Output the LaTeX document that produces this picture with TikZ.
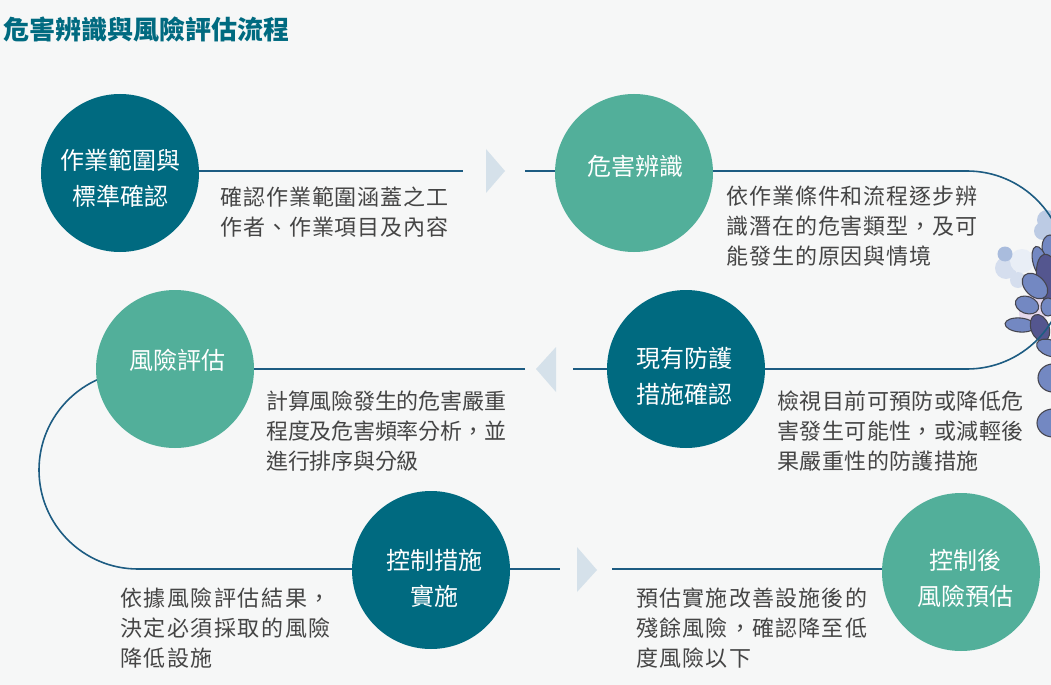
\documentclass[tikz,border=0pt]{standalone}
\usepackage{fontspec}
\usetikzlibrary{backgrounds}
\newfontfamily\cjkdesc[LetterSpace=4.3]{Noto Sans CJK TC}
\newfontfamily\cjkdescN[LetterSpace=-1]{Noto Sans CJK TC}
\newfontfamily\cjkdescM[LetterSpace=2]{Noto Sans CJK TC}
\newfontfamily\cjkdescW[LetterSpace=5.5]{Noto Sans CJK TC}
\newfontfamily\cjkdescX[LetterSpace=7]{Noto Sans CJK TC}
\newfontfamily\cjkstep{Noto Sans CJK TC}
\newfontfamily\cjktitle{Noto Sans CJK TC}
\definecolor{bgc}{HTML}{F6F7F7}
\definecolor{tealc}{HTML}{006A80}
\definecolor{mint}{HTML}{52AF9A}
\definecolor{linec}{HTML}{1D5C82}
\definecolor{tric}{HTML}{D5E1EA}
\definecolor{txt}{HTML}{454545}
\definecolor{petal}{HTML}{7388C2}
\definecolor{petald}{HTML}{54568F}
\definecolor{edge}{HTML}{45454F}
\definecolor{paleA}{HTML}{A9BCDD}
\definecolor{paleB}{HTML}{D5DEEE}
\definecolor{paleC}{HTML}{E9EEF6}
\definecolor{paleD}{HTML}{BCCBE4}
\definecolor{pinkc}{HTML}{E5D8EC}
% label in a circle, shifted by #1 px right and #2 px down from the centre
\newcommand{\steplabel}[3]{\raisebox{\dimexpr-#2pt*3/4-5.9pt\relax}[0pt][0pt]{\makebox[0pt]{\hspace{\dimexpr#1pt*3/2\relax}\begin{tabular}{@{}c@{}}#3\end{tabular}}}}
\tikzset{
 stepdark/.style={circle,fill=tealc,text=white,minimum size=118.5pt,inner sep=0pt,font=\cjkstep\fontsize{18}{27}\selectfont},
 steplight/.style={stepdark,fill=mint},
 desc/.style={anchor=north west,inner sep=0pt,align=left,text=txt,font=#1\fontsize{16.5}{22.3}\selectfont},
 flow/.style={draw=linec,line width=1.2pt},
 tri/.style={fill=tric,draw=none},
 pet/.style={draw=edge,line width=0.8pt,fill=petal},
 petd/.style={draw=edge,line width=0.8pt,fill=petald},
}
\begin{document}
\begin{tikzpicture}[x=0.75pt,y=-0.75pt]
\useasboundingbox (0,0) rectangle (1051,685);
\node[anchor=west,inner sep=0pt,text=tealc,font=\cjktitle\bfseries\fontsize{19.5}{22}\selectfont] (title) at (3,29) {危害辨識與風險評估流程};
\node[stepdark] (c1) at (120,173) {\steplabel{0}{5}{作業範圍與\\標準確認}};
\node[steplight] (c2) at (634,173) {\steplabel{1}{-7}{危害辨識}};
\node[steplight] (c3) at (175,369) {\steplabel{2}{-9}{風險評估}};
\node[stepdark] (c4) at (686,369) {\steplabel{-2}{7}{現有防護\\措施確認}};
\node[stepdark] (c5) at (431,570) {\steplabel{3}{8.5}{控制措施\\實施}};
\node[steplight] (c6) at (961,572) {\steplabel{4}{6.5}{控制後\\風險預估}};
\node[desc=\cjkdesc] (t1) at (220,186.5) {確認作業範圍涵蓋之工\\作者、作業項目及內容};
\node[desc=\cjkdesc] (t2) at (726,186) {依作業條件和流程逐步辨\\識潛在的危害類型，及可\\能發生的原因與情境};
\node[desc=\cjkdescN] (t3) at (266,391) {計算風險發生的危害嚴重\\程度及危害頻率分析，並\\進行排序與分級};
\node[desc=\cjkdescM] (t4) at (777,391) {檢視目前可預防或降低危\\害發生可能性，或減輕後\\果嚴重性的防護措施};
\node[desc=\cjkdescX] (t5) at (120,588) {依據風險評估結果，\\決定必須採取的風險\\降低設施};
\node[desc=\cjkdescW] (t6) at (636,588) {預估實施改善設施後的\\殘餘風險，確認降至低\\度風險以下};
\coordinate (a1) at (463,171);
\coordinate (a2) at (525,171);
\coordinate (a3) at (525,369);
\coordinate (a4) at (573,369);
\coordinate (a5) at (560,569);
\coordinate (a6) at (612,569);
\coordinate (r1) at (967,171);
\coordinate (l1) at (138,371);
\begin{scope}[on background layer]
\fill[bgc] (0,0) rectangle (1051,685);
\begin{scope}
\clip (0,0) rectangle (1051,685);
% pale washes
\fill[paleD] (1047,220) circle[radius=10];
\fill[paleD] (1043,231) circle[radius=9];
\fill[paleB] (1006,268) circle[radius=11];
\fill[paleC] (1022,261) circle[radius=12];
\fill[paleB] (1018,280) circle[radius=8];
\fill[paleA] (1005,254) circle[radius=7.5];
\fill[pinkc] (1033,312) ellipse[x radius=14,y radius=18];
% petals
\draw[pet] (1050,247) ellipse[x radius=8,y radius=12];
\draw[pet] (1040,262) ellipse[x radius=7,y radius=16,rotate=15];
\draw[petd] (1049,280) ellipse[x radius=12,y radius=26,rotate=10];
\draw[pet] (1035,286) ellipse[x radius=15,y radius=10,rotate=-45];
\draw[pet] (1027,305) ellipse[x radius=12,y radius=8.5,rotate=-20];
\draw[pet] (1048,307) ellipse[x radius=7,y radius=9];
\draw[pet] (1020,325) ellipse[x radius=15,y radius=7,rotate=-5];
\draw[petd] (1040,328) ellipse[x radius=9,y radius=14,rotate=20];
\draw[pet] (1050,348) ellipse[x radius=14,y radius=8,rotate=-20];
\draw[pet] (1053,378) ellipse[x radius=15,y radius=14];
\draw[pet] (1053,423) ellipse[x radius=16,y radius=14];
\end{scope}
\begin{scope}
\clip (0,0) rectangle (1051,685);
\draw[flow] (a1 -| c1.center) -- (a1);
\draw[flow] (a2) -- (a2 -| c2.center);
\draw[flow] (r1 -| c2.center) -- (r1) arc[start angle=-90,end angle=90,radius=99] -- (c4.center);
\draw[flow] (c4.center) -- (a4);
\draw[flow] (a3) -- (c3.center);
\draw[flow] (c3.center) -- (l1) arc[start angle=270,end angle=90,radius=99] -- (l1 |- a5) -- (a5 -| c5.center);
\draw[flow] (a5 -| c5.center) -- (a5);
\draw[flow] (a6) -- (a6 -| c6.center);
\end{scope}
\fill[tri] (486,149) -- (505,171) -- (486,193) -- cycle;
\fill[tri] (556,347) -- (536,369) -- (556,392) -- cycle;
\fill[tri] (577,547) -- (597,570) -- (577,592) -- cycle;
\end{scope}
\end{tikzpicture}
\end{document}
